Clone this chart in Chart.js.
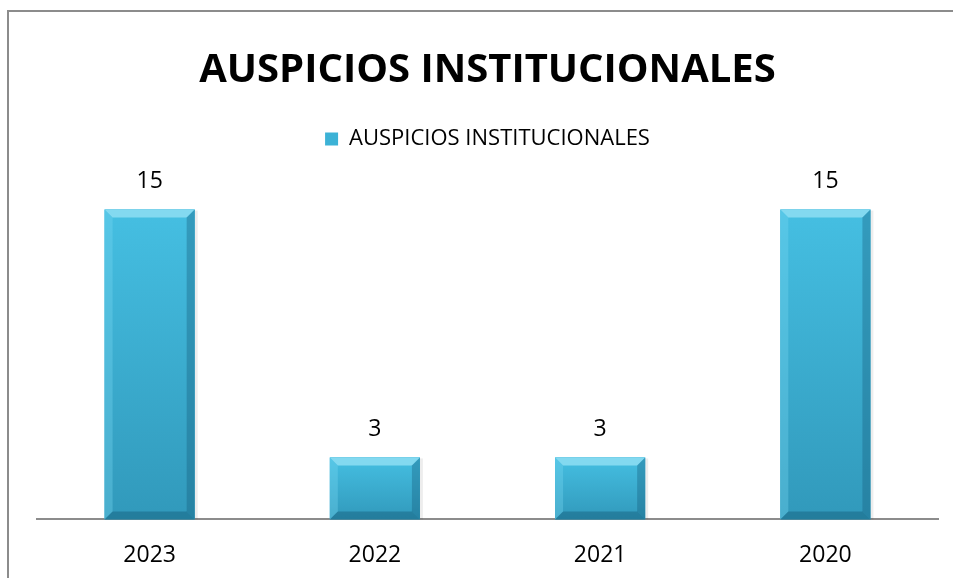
<!DOCTYPE html>
<html>
<head>
<meta charset="utf-8">
<script src="https://cdn.jsdelivr.net/npm/chart.js@4"></script>
<style>
  html, body { margin: 0; padding: 0; background: #fff; overflow: hidden; }
  #frame {
    position: absolute; left: 7px; top: 10px;
    width: 946px; height: 591px;
    border-left: 2px solid #8c8c8c; border-top: 2px solid #8c8c8c;
  }
  #chart { display: block; }
</style>
</head>
<body>
<div id="frame"><canvas id="chart" width="944" height="589"></canvas></div>
<script>
const years = ['2023', '2022', '2021', '2020'];
const auspicios = [15, 3, 3, 15];
const seriesName = 'AUSPICIOS INSTITUCIONALES';
const chartTitle = 'AUSPICIOS INSTITUCIONALES';

// value text above every bar
const valueLabels = {
    id: 'valueLabels',
    afterDatasetsDraw(chart) {
        const ctx = chart.ctx;
        const meta = chart.getDatasetMeta(0);
        ctx.save();
        ctx.font = '23px "Open Sans"';
        ctx.fillStyle = '#000';
        ctx.textAlign = 'center';
        ctx.textBaseline = 'middle';
        meta.data.forEach((bar, i) => {
            ctx.fillText(String(chart.data.datasets[0].data[i]), bar.x, bar.y - 28);
        });
        ctx.restore();
    }
};

// bevelled look of the office bars
const bevelBars = {
    id: 'bevelBars',
    afterDatasetsDraw(chart) {
        const ctx = chart.ctx;
        const meta = chart.getDatasetMeta(0);
        const b = 8;
        ctx.save();
        meta.data.forEach(bar => {
            const l = bar.x - bar.width / 2, r = bar.x + bar.width / 2;
            const t = bar.y, btm = bar.base;
            // shadow
            ctx.fillStyle = 'rgba(0,0,0,0.07)';
            ctx.fillRect(l + 1, t + 1, r - l + 2, btm - t - 1);
            // body
            const g = ctx.createLinearGradient(0, t, 0, btm);
            g.addColorStop(0, '#45bfe2');
            g.addColorStop(1, '#3199bb');
            ctx.fillStyle = g;
            ctx.fillRect(l, t, r - l, btm - t);
            // top bevel
            ctx.fillStyle = '#83d9f0';
            ctx.beginPath();
            ctx.moveTo(l, t); ctx.lineTo(r, t); ctx.lineTo(r - b, t + b); ctx.lineTo(l + b, t + b); ctx.closePath();
            ctx.fill();
            // left bevel
            ctx.fillStyle = 'rgba(120,215,240,0.35)';
            ctx.beginPath();
            ctx.moveTo(l, t); ctx.lineTo(l + b, t + b); ctx.lineTo(l + b, btm - b); ctx.lineTo(l, btm); ctx.closePath();
            ctx.fill();
            // right bevel
            ctx.fillStyle = 'rgba(20,90,120,0.35)';
            ctx.beginPath();
            ctx.moveTo(r, t); ctx.lineTo(r - b, t + b); ctx.lineTo(r - b, btm - b); ctx.lineTo(r, btm); ctx.closePath();
            ctx.fill();
            // bottom bevel
            ctx.fillStyle = 'rgba(20,90,120,0.45)';
            ctx.beginPath();
            ctx.moveTo(l, btm); ctx.lineTo(l + b, btm - b); ctx.lineTo(r - b, btm - b); ctx.lineTo(r, btm); ctx.closePath();
            ctx.fill();
        });
        ctx.restore();
    }
};

new Chart(document.getElementById('chart').getContext('2d'), {
    type: 'bar',
    data: {
        labels: years,
        datasets: [{
            label: seriesName,
            data: auspicios,
            backgroundColor: '#3cb2d6',
            borderWidth: 0,
            barPercentage: 0.4,
            categoryPercentage: 1
        }]
    },
    options: {
        responsive: false,
        animation: false,
        layout: { padding: { left: 28, right: 15, top: 0, bottom: 10 } },
        scales: {
            x: {
                grid: { display: false, drawTicks: false },
                border: { display: true, color: '#8c8c8c', width: 2 },
                ticks: { color: '#000', padding: 22, font: { family: 'Open Sans', size: 23 } }
            },
            y: {
                display: false,
                min: 0,
                max: 17.4
            }
        },
        plugins: {
            title: {
                display: true,
                text: chartTitle,
                color: '#000',
                font: { family: 'Open Sans', size: 40, weight: 'bold' },
                padding: { top: 35, bottom: 23 }
            },
            legend: {
                display: true,
                position: 'top',
                labels: {
                    color: '#000',
                    boxWidth: 13,
                    boxHeight: 13,
                    font: { family: 'Open Sans', size: 22 }
                }
            },
            tooltip: { enabled: false }
        }
    },
    plugins: [bevelBars, valueLabels]
});
</script>
</body>
</html>
